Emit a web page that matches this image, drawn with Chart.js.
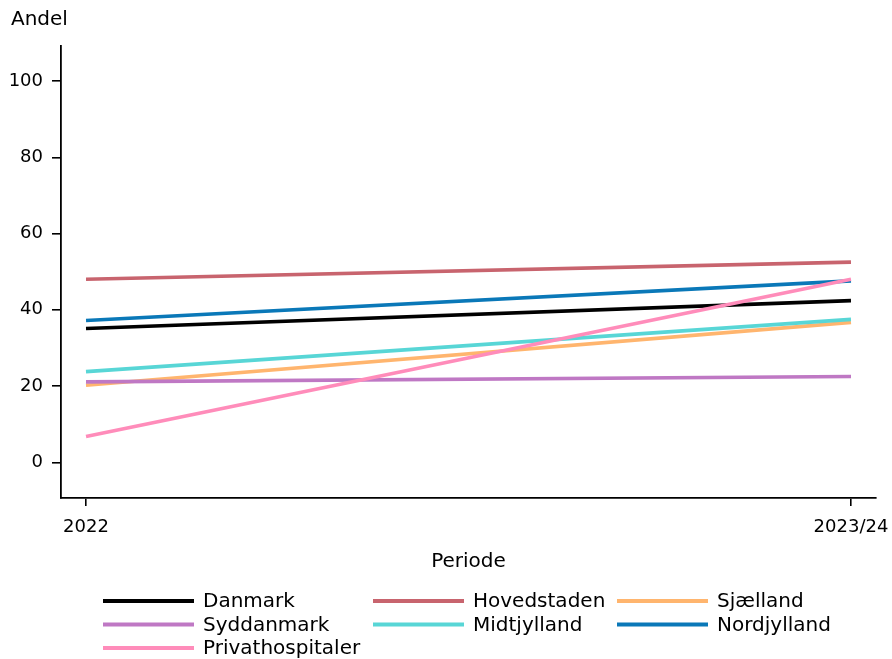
<!DOCTYPE html>
<html><head><meta charset="utf-8">
<script src="https://cdn.jsdelivr.net/npm/chart.js@4"></script>
<style>html,body{margin:0;padding:0;background:#fff}#wrap{width:892px;height:659px;position:relative}</style>
</head><body><div id="wrap"><canvas id="c"></canvas></div>
<script>
const periods = ['2022', '2023/24'];
const seriesNames = ['Danmark', 'Hovedstaden', 'Sjælland', 'Syddanmark', 'Midtjylland', 'Nordjylland', 'Privathospitaler'];
const danmark = [35.1, 42.4];
const hovedstaden = [48.0, 52.5];
const sjaelland = [20.2, 36.7];
const syddanmark = [21.1, 22.5];
const midtjylland = [23.8, 37.5];
const nordjylland = [37.2, 47.6];
const privathospitaler = [6.8, 48.0];
const yTicks = [0, 20, 40, 60, 80, 100];
const yTitle = 'Andel';
const xTitle = 'Periode';
const seriesColors = ['#000000', '#c8646e', '#ffb56e', '#bf78c4', '#58d6d6', '#0a78b8', '#ff8cba'];

const allValues = [danmark, hovedstaden, sjaelland, syddanmark, midtjylland, nordjylland, privathospitaler];
const FONT = "'DejaVu Sans', sans-serif";

const datasets = allValues.map((vals, k) => ({
  label: seriesNames[k],
  data: periods.map((p, i) => ({x: i, y: vals[i]})),
  borderColor: seriesColors[k],
  backgroundColor: seriesColors[k],
  borderWidth: 3.6,
  pointRadius: 0,
  tension: 0,
  order: allValues.length - k
}));

const extras = {
  id: 'extras',
  afterDraw(chart) {
    const ctx = chart.ctx;
    ctx.save();
    ctx.fillStyle = '#000';
    ctx.font = '20px ' + FONT;
    ctx.textBaseline = 'middle';
    ctx.textAlign = 'left';
    ctx.fillText(yTitle, 11, 20);
    // legend, 3 columns
    const colX = [103, 373, 617];
    const rowY = [601, 624.5, 648];
    chart.data.datasets.forEach((ds, k) => {
      const col = k % 3, row = Math.floor(k / 3);
      const x = colX[col], y = rowY[row];
      ctx.strokeStyle = ds.borderColor;
      ctx.lineWidth = 4;
      ctx.beginPath();
      ctx.moveTo(x, y);
      ctx.lineTo(x + 91, y);
      ctx.stroke();
      ctx.fillStyle = '#000';
      ctx.fillText(ds.label, x + 100, y + 1);
    });
    ctx.restore();
  }
};

new Chart(document.getElementById('c'), {
  type: 'line',
  data: {datasets},
  plugins: [extras],
  options: {
    responsive: true,
    maintainAspectRatio: false,
    animation: false,
    layout: {padding: {top: 46, right: 16, left: 0, bottom: 81}},
    plugins: {legend: {display: false}, tooltip: {enabled: false}, title: {display: false}},
    scales: {
      x: {
        type: 'linear',
        min: -0.0327,
        max: 1.0327,
        afterBuildTicks(scale) { scale.ticks = periods.map((p, i) => ({value: i})); },
        afterFit(scale) { scale.height = 80; scale.paddingLeft = 0; scale.paddingRight = 0; },
        ticks: {
          callback: (v) => periods[v],
          font: {family: FONT, size: 18},
          color: '#000',
          padding: 11,
          maxRotation: 0,
          autoSkip: false
        },
        grid: {drawOnChartArea: false, drawTicks: true, tickLength: 8, color: '#000', lineWidth: 1.6},
        border: {display: true, color: '#000', width: 1.8},
        title: {display: true, text: xTitle, font: {family: FONT, size: 20}, color: '#000', padding: {top: 0, bottom: 4}}
      },
      y: {
        type: 'linear',
        min: -9.36,
        max: 109.2,
        afterBuildTicks(scale) { scale.ticks = yTicks.map(v => ({value: v})); },
        afterFit(scale) { scale.width = 61; scale.paddingTop = 0; scale.paddingBottom = 0; },
        ticks: {
          font: {family: FONT, size: 18},
          color: '#000',
          padding: 9
        },
        grid: {drawOnChartArea: false, drawTicks: true, tickLength: 9, color: '#000', lineWidth: 1.6},
        border: {display: true, color: '#000', width: 1.8}
      }
    }
  }
});
</script></body></html>
